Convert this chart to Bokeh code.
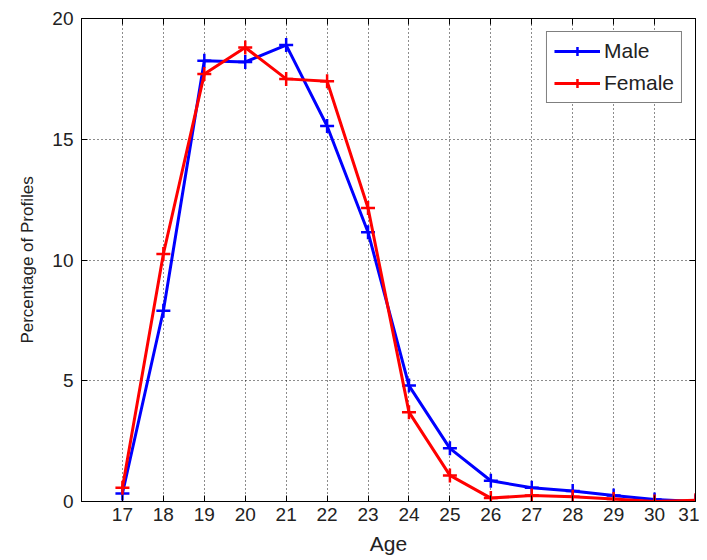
from bokeh.plotting import figure
from bokeh.models import Range1d, LinearAxis, FixedTicker, Legend, LegendItem
from bokeh.embed import file_html
from bokeh.resources import INLINE

ages = [17, 18, 19, 20, 21, 22, 23, 24, 25, 26, 27, 28, 29, 30, 31]
male = [0.33, 7.9, 18.25, 18.2, 18.9, 15.55, 11.15, 4.8, 2.2, 0.86, 0.57, 0.43, 0.25, 0.08, 0.0]
female = [0.57, 10.25, 17.7, 18.8, 17.5, 17.4, 12.15, 3.7, 1.08, 0.14, 0.25, 0.2, 0.1, 0.0, 0.05]
x_ticks = ages
y_ticks = [0, 5, 10, 15, 20]

FONT = "Liberation Sans"

p = figure(frame_width=614, frame_height=483,
           x_range=Range1d(16, 31), y_range=Range1d(0, 20),
           output_backend="svg", toolbar_location=None,
           min_border_left=81, min_border_right=4,
           min_border_top=18, min_border_bottom=48,
           background_fill_color="white", border_fill_color="white")
p.outline_line_color = "black"
p.outline_line_width = 1

for ax in (p.xaxis[0], p.yaxis[0]):
    ax.major_tick_in = 6
    ax.major_tick_out = 0
    ax.minor_tick_line_color = None
    ax.axis_line_color = "black"
    ax.major_tick_line_color = "black"
    ax.major_label_text_font = FONT
    ax.major_label_text_color = "#222222"
    ax.axis_label_text_font = FONT
    ax.axis_label_text_font_style = "normal"
    ax.axis_label_text_color = "#222222"

p.xaxis.ticker = FixedTicker(ticks=x_ticks)
p.yaxis.ticker = FixedTicker(ticks=y_ticks)
p.xaxis.axis_label = "Age"
p.yaxis.axis_label = "Percentage of Profiles"
p.xaxis.major_label_text_font_size = "19px"
p.yaxis.major_label_text_font_size = "19px"
p.xaxis.axis_label_text_font_size = "21px"
p.yaxis.axis_label_text_font_size = "17px"
p.xaxis.major_label_standoff = 6
p.yaxis.major_label_standoff = 8
p.xaxis.axis_label_standoff = 8
p.yaxis.axis_label_standoff = 12

top = LinearAxis(ticker=FixedTicker(ticks=x_ticks), major_tick_in=6, major_tick_out=0,
                 minor_tick_line_color=None, major_label_standoff=0,
                 major_label_overrides={t: "" for t in x_ticks},
                 major_label_text_color=None)
right = LinearAxis(ticker=FixedTicker(ticks=y_ticks), major_tick_in=6, major_tick_out=0,
                   minor_tick_line_color=None, major_label_standoff=0,
                   major_label_overrides={t: "" for t in y_ticks},
                   major_label_text_color=None)
p.add_layout(top, "above")
p.add_layout(right, "right")

p.xgrid.ticker = FixedTicker(ticks=x_ticks)
p.ygrid.ticker = FixedTicker(ticks=y_ticks)
for g in (p.xgrid[0], p.ygrid[0]):
    g.grid_line_color = "black"
    g.grid_line_dash = "1 3"
    g.grid_line_width = 1
    g.grid_line_alpha = 0.9

lm = p.line(ages, male, line_color="#0000FF", line_width=3)
sm = p.scatter(ages, male, marker="cross", size=14, line_color="#0000FF", line_width=2.5)
lf = p.line(ages, female, line_color="#FF0000", line_width=3)
sf = p.scatter(ages, female, marker="cross", size=14, line_color="#FF0000", line_width=2.5)

legend = Legend(items=[LegendItem(label="Male", renderers=[lm, sm]),
                       LegendItem(label="Female", renderers=[lf, sf])],
                location="top_right", margin=13,
                label_text_font=FONT, label_text_font_size="21px",
                label_text_color="#222222",
                glyph_width=46, glyph_height=22, label_height=22,
                spacing=8, padding=7, label_standoff=4,
                border_line_color="black", border_line_width=1,
                background_fill_color="white", background_fill_alpha=1)
p.add_layout(legend)

open("out.html", "w").write(file_html(p, INLINE))
